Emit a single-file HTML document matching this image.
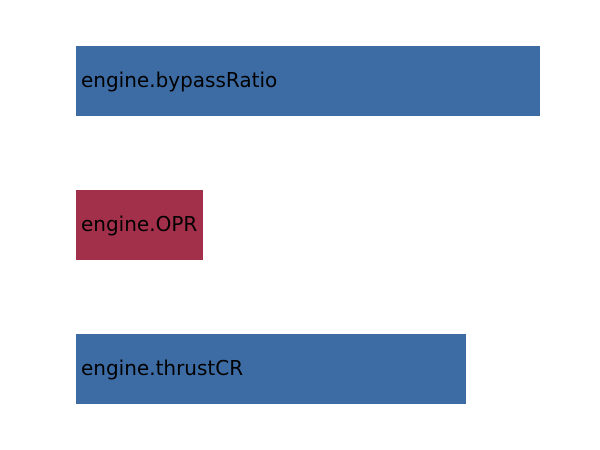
<!DOCTYPE html>
<html><head><meta charset="utf-8"><style>
html,body{margin:0;padding:0;background:#fff;width:600px;height:450px;overflow:hidden}
.b{position:absolute;left:76px;height:70px}
.t{position:absolute;left:81px;font-family:"DejaVu Sans",sans-serif;font-size:20px;color:#000;line-height:1;white-space:nowrap}
</style></head><body>
<div class="b" style="top:46px;width:464px;background:#3d6ca5"></div>
<div class="b" style="top:190px;width:127px;background:#a3304a"></div>
<div class="b" style="top:334px;width:390px;background:#3d6ca5"></div>
<div class="t" style="top:70px">engine.bypassRatio</div>
<div class="t" style="top:214px">engine.OPR</div>
<div class="t" style="top:358px">engine.thrustCR</div>
</body></html>
